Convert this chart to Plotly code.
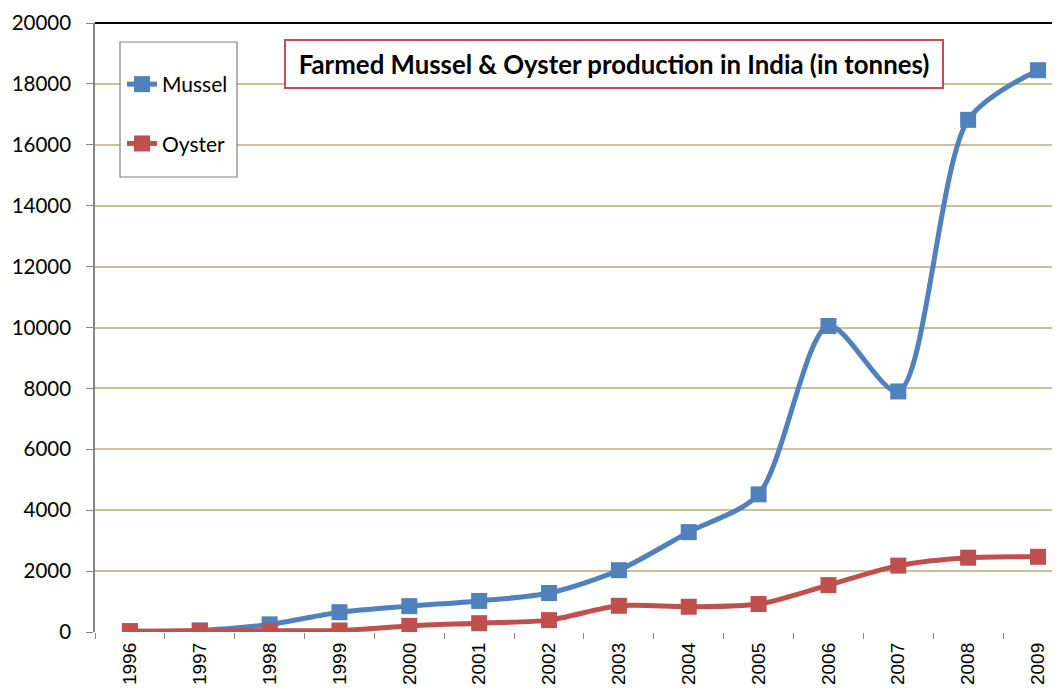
import plotly.graph_objects as go

years = ["1996", "1997", "1998", "1999", "2000", "2001", "2002",
         "2003", "2004", "2005", "2006", "2007", "2008", "2009"]
mussel = [30, 50, 250, 650, 850, 1020, 1280, 2030, 3280, 4520, 10050, 7900, 16820, 18450]
oyster = [20, 40, 40, 50, 200, 290, 390, 860, 830, 920, 1540, 2180, 2440, 2470]

# page body has an 8px margin; figure sized to fit the window
OFF = 8
W, H = 1060 - OFF, 690 - OFF
L, T, B, R = 95 - OFF, 23 - OFF, H - (632 - OFF), 0
PW, PH = W - L - R, H - T - B


def px_x(p):
    return (p - OFF - L) / PW


def px_y(p):
    return (H - B - (p - OFF)) / PH


fig = go.Figure()
fig.add_trace(go.Scatter(
    x=years, y=mussel, name="Mussel", mode="lines+markers",
    line=dict(color="#4F81BD", width=5, shape="spline", smoothing=0.8),
    marker=dict(symbol="square", size=16, color="#4F81BD"),
    legendgroup="m"))
fig.add_trace(go.Scatter(
    x=years, y=oyster, name="Oyster", mode="lines+markers",
    line=dict(color="#C0504D", width=5, shape="spline", smoothing=0.8),
    marker=dict(symbol="square", size=16, color="#C0504D"),
    legendgroup="o"))

fig.update_layout(
    width=W, height=H,
    margin=dict(l=L, r=R, t=T, b=B, autoexpand=False),
    paper_bgcolor="white", plot_bgcolor="white",
    showlegend=True,
    legend=dict(x=px_x(122), y=px_y(64), xanchor="left", yanchor="top",
                bgcolor="rgba(0,0,0,0)", borderwidth=0,
                font=dict(family="Lato", size=21, color="black"),
                tracegroupgap=29, itemwidth=30),
    xaxis=dict(type="category", range=[-0.5, 13.315], automargin=False,
               tickson="boundaries", ticks="outside", ticklen=6,
               tickcolor="#868686", tickwidth=1,
               showline=False, showgrid=False, zeroline=False,
               tickangle=-90, ticklabelstandoff=6,
               tickfont=dict(family="Liberation Sans", size=19, color="black")),
    yaxis=dict(range=[0, 20000], dtick=2000, tickformat="d", automargin=False,
               showline=True, linecolor="#868686", linewidth=1.5,
               ticks="outside", ticklen=7, tickcolor="#868686",
               showgrid=True, gridcolor="#C9C09A", gridwidth=1.5,
               zeroline=False, ticklabelstandoff=11,
               tickfont=dict(family="Lato", size=20.5, color="black")),
    shapes=[
        dict(type="line", xref="paper", yref="paper", x0=0, x1=1, y0=1, y1=1,
             line=dict(color="black", width=2)),
        dict(type="rect", xref="paper", yref="paper",
             x0=px_x(120), x1=px_x(237), y0=px_y(177), y1=px_y(42),
             line=dict(color="#808080", width=1.2), fillcolor="rgba(255,255,255,1)",
             layer="above"),
    ],
    annotations=[
        dict(text="Farmed Mussel &amp; Oyster production in India (in tonnes)",
             xref="paper", yref="paper", x=px_x(614), y=px_y(64),
             xanchor="center", yanchor="middle", showarrow=False,
             font=dict(family="Lato", size=25.8, color="black", weight="bold"),
             bgcolor="white", bordercolor="#C0504D", borderwidth=2,
             width=640, height=30, borderpad=8),
    ],
)

fig.write_html("out.html")
